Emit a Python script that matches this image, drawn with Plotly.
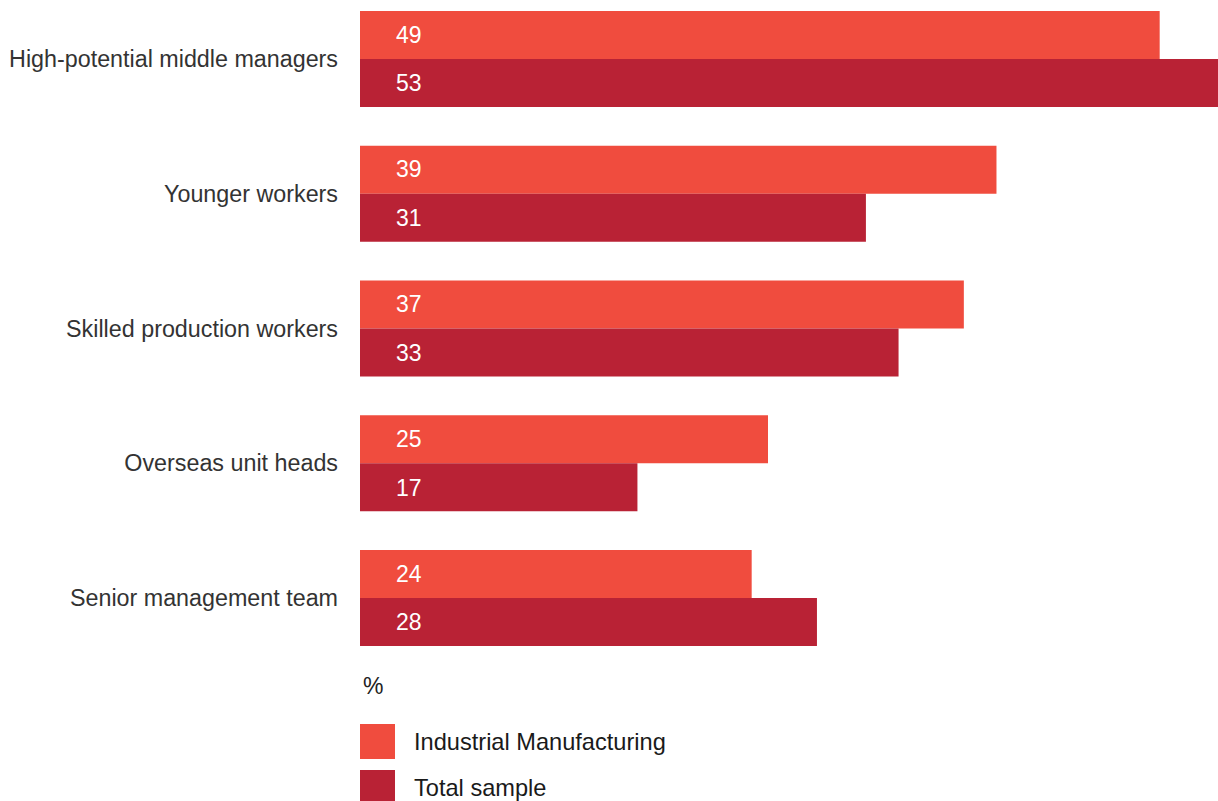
import plotly.graph_objects as go

# Share of respondents (%) by workforce group
categories = [
    "High-potential middle managers",
    "Younger workers",
    "Skilled production workers",
    "Overseas unit heads",
    "Senior management team",
]
industrial = [49, 39, 37, 25, 24]
total = [53, 31, 33, 17, 28]

series_names = ["Industrial Manufacturing", "Total sample"]
series_colors = ["#F04C3E", "#B92235"]
font_family = "Liberation Sans, Arial, Helvetica, sans-serif"

W, H = 1218, 801
plot_top, plot_bottom = 0, 700
plot_left = 360
plot_h = plot_bottom - plot_top

fig = go.Figure()
for name, vals, col in zip(series_names, [industrial, total], series_colors):
    fig.add_trace(go.Bar(
        y=categories, x=vals, orientation="h", name=name,
        marker=dict(color=col, line=dict(width=0)),
        showlegend=False, hoverinfo="x+y",
    ))

# value labels inside the start of each bar
annotations = []
for vals, shift in [(industrial, 24.3), (total, -24.3)]:
    for cat, v in zip(categories, vals):
        annotations.append(dict(
            x=0, y=cat, xref="x", yref="y", text=str(v), showarrow=False,
            xanchor="left", yanchor="middle", xshift=34, yshift=shift,
            font=dict(family=font_family, size=23, color="white"),
        ))

def py(px):
    """pixel row -> paper y"""
    return 1 - (px - plot_top) / plot_h

plot_w = W - plot_left

def pxx(px):
    return (px - plot_left) / plot_w

annotations.append(dict(
    x=pxx(361), y=py(686), xref="paper", yref="paper", text="%",
    showarrow=False, xanchor="left", yanchor="middle",
    font=dict(family=font_family, size=23, color="#222222"),
))

shapes = []
for i, (name, col) in enumerate(zip(series_names, series_colors)):
    top = 724 + i * 46
    shapes.append(dict(
        type="rect", xref="paper", yref="paper",
        x0=pxx(360), x1=pxx(395), y0=py(top + 35), y1=py(top),
        fillcolor=col, line=dict(width=0),
    ))
    annotations.append(dict(
        x=pxx(412), y=py(top + 18), xref="paper", yref="paper", text=name,
        showarrow=False, xanchor="left", yanchor="middle",
        font=dict(family=font_family, size=23.6, color="#1a1a1a"),
    ))

pitch = 134.75
first_center = 59
y_lo = -(first_center - plot_top) / pitch
y_hi = y_lo + plot_h / pitch

fig.update_layout(
    width=W, height=H,
    margin=dict(l=plot_left, r=0, t=plot_top, b=H - plot_bottom, pad=0),
    paper_bgcolor="white", plot_bgcolor="white",
    barmode="group", bargap=0.2875, bargroupgap=0,
    font=dict(family=font_family, size=22, color="#333333"),
    xaxis=dict(range=[0, plot_w / 16.32], visible=False, fixedrange=True),
    yaxis=dict(
        type="category", range=[y_hi, y_lo], showgrid=False, zeroline=False,
        showline=False, ticks="", ticklabelstandoff=21,
        tickfont=dict(family=font_family, size=23.3, color="#333333"),
        fixedrange=True,
    ),
    annotations=annotations, shapes=shapes,
)

fig.write_html("out.html")
